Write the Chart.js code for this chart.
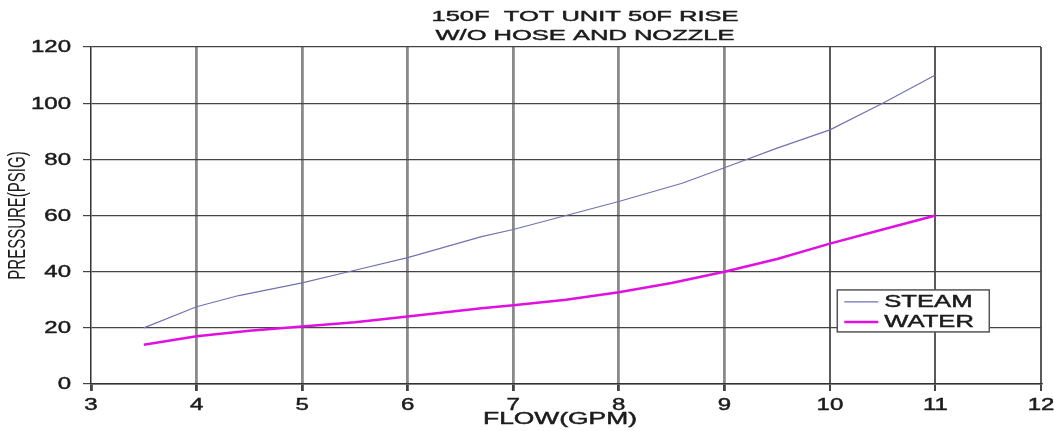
<!DOCTYPE html>
<html>
<head>
<title>150F TOT UNIT 50F RISE</title>
<script src="https://cdn.jsdelivr.net/npm/chart.js"></script>
<style>
html, body { margin: 0; padding: 0; background: #fff; }
.chart-container { position: relative; width: 1054px; height: 431px; }
</style>
</head>
<body>
<div class="chart-container">
<canvas id="flowChart"></canvas>
</div>
<script>
// values
const steamFlow = [3.5, 4, 4.4, 5, 5.5, 6, 6.7, 7, 8, 8.6, 9, 9.5, 10, 10.5, 11];
const steamPressure = [20, 27.5, 31.5, 36, 40.5, 45, 52.5, 55, 65, 71.5, 77, 84, 90.5, 100, 110];
const waterFlow = [3.5, 4, 4.5, 5, 5.5, 6, 6.7, 7, 7.5, 8, 8.5, 9, 9.5, 10, 10.5, 11];
const waterPressure = [14, 17, 19, 20.5, 22, 24, 27, 28, 30, 32.7, 36, 40, 44.5, 50, 55, 60];
const seriesNames = ['STEAM', 'WATER'];
const titleLines = ['150F  TOT UNIT 50F RISE', 'W/O HOSE AND NOZZLE'];
const xAxisTitle = 'FLOW(GPM)';
const yAxisTitle = 'PRESSURE(PSIG)';

const FONT = '"Liberation Sans", Arial, sans-serif';
const INK = '#1c1c1c';

const pts = (xs, ys) => xs.map((x, i) => ({ x: x, y: ys[i] }));

// the original's lettering is wide (stretched sideways) and a bit heavy, so text is drawn here
function wideText(c, text, x, y, sx, align) {
  c.save();
  c.translate(x, y);
  c.scale(sx, 1);
  c.textAlign = align;
  c.fillText(text, 0, 0);
  c.strokeText(text, 0, 0);
  c.restore();
}

const wideLabels = {
  id: 'wideLabels',
  afterDraw(chart) {
    const c = chart.ctx, a = chart.chartArea;
    const xs = chart.scales.x, ys = chart.scales.y;
    c.save();
    c.fillStyle = INK;
    c.strokeStyle = INK;
    c.lineWidth = 0.45;
    c.textBaseline = 'middle';

    // tick labels
    c.font = '16px ' + FONT;
    ys.ticks.forEach(t => wideText(c, String(t.value), a.left - 20, ys.getPixelForValue(t.value) + 1, 1.5, 'right'));
    xs.ticks.forEach(t => wideText(c, String(t.value), xs.getPixelForValue(t.value), a.bottom + 22, 1.5, 'center'));

    // title
    c.font = '15px ' + FONT;
    const tx = xs.getPixelForValue(7.68);
    wideText(c, titleLines[0], tx, 17, 1.7, 'center');
    wideText(c, titleLines[1], tx, 36, 1.7, 'center');

    // axis titles
    c.font = '16px ' + FONT;
    wideText(c, xAxisTitle, (a.left + a.right) / 2 - 6, 420, 1.65, 'center');
    c.font = '15px ' + FONT;
    c.save();
    c.translate(18, (a.top + a.bottom) / 2);
    c.rotate(-Math.PI / 2);
    c.scale(1, 1.6);
    c.textAlign = 'center';
    c.fillText(yAxisTitle, 0, 0);
    c.restore();

    // legend box inside the plot
    const x0 = xs.getPixelForValue(10.07);
    const y0 = ys.getPixelForValue(33.5);
    const w = 152, h = 42;
    c.fillStyle = '#fff';
    c.fillRect(x0, y0, w, h);
    c.strokeStyle = '#555';
    c.lineWidth = 1.5;
    c.strokeRect(x0, y0, w, h);
    c.font = '16px ' + FONT;
    chart.data.datasets.forEach((ds, i) => {
      const ly = y0 + 12 + i * 20;
      c.strokeStyle = ds.borderColor;
      c.lineWidth = ds.borderWidth;
      c.beginPath();
      c.moveTo(x0 + 7, ly);
      c.lineTo(x0 + 41, ly);
      c.stroke();
      c.fillStyle = INK;
      c.strokeStyle = INK;
      c.lineWidth = 0.45;
      wideText(c, ds.label, x0 + 47, ly + 1, 1.6, 'left');
    });
    c.restore();
  }
};

const ctx = document.getElementById('flowChart').getContext('2d');
new Chart(ctx, {
  type: 'line',
  data: {
    datasets: [{
      label: seriesNames[0],
      data: pts(steamFlow, steamPressure),
      borderColor: '#7272b2',
      borderWidth: 1.2,
      pointRadius: 0,
      tension: 0
    }, {
      label: seriesNames[1],
      data: pts(waterFlow, waterPressure),
      borderColor: '#e010e0',
      borderWidth: 2.5,
      pointRadius: 0,
      tension: 0
    }]
  },
  options: {
    responsive: true,
    maintainAspectRatio: false,
    animation: false,
    layout: { padding: { left: 0, right: 13, top: 47, bottom: 0 } },
    scales: {
      x: {
        type: 'linear',
        min: 3, max: 12,
        afterFit: s => { s.height = 47; },
        ticks: { stepSize: 1, color: 'rgba(0,0,0,0)', font: { size: 16 } },
        grid: {
          color: c => {
            const v = c.tick ? c.tick.value : 0;
            if (v === 3) return 'rgba(0,0,0,0)';
            return v >= 10 ? '#5a5a5a' : '#8a8a8a';
          },
          lineWidth: c => (c.tick && c.tick.value >= 10) ? 2 : 2.8,
          tickColor: '#444',
          tickLength: 7
        },
        border: { color: '#333', width: 1.5 }
      },
      y: {
        min: 0, max: 120,
        afterFit: s => { s.width = 91; },
        ticks: { stepSize: 20, color: 'rgba(0,0,0,0)', font: { size: 16 } },
        grid: { color: '#444', lineWidth: 1.2, tickColor: '#444', tickLength: 8 },
        border: { color: '#333', width: 1.5 }
      }
    },
    plugins: {
      legend: { display: false },
      tooltip: { enabled: false },
      title: { display: false }
    }
  },
  plugins: [wideLabels]
});
</script>
</body>
</html>
